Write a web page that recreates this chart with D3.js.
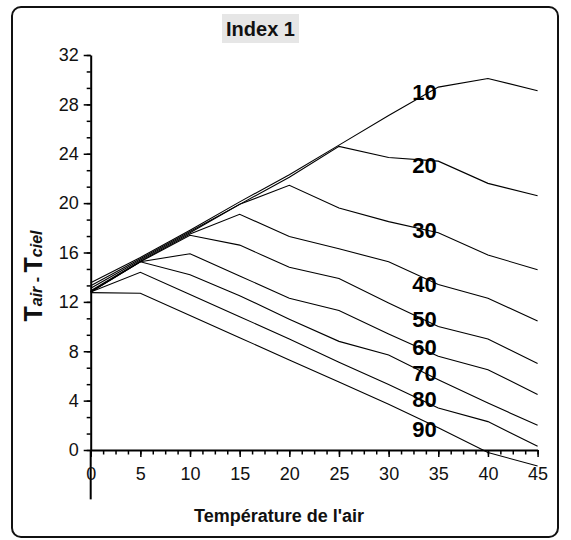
<!DOCTYPE html>
<html>
<head>
<meta charset="utf-8">
<script src="https://cdn.jsdelivr.net/npm/d3@7"></script>
<style>
  body { margin: 0; background: #fff; }
  svg { display: block; font-family: "Liberation Sans", Arial, sans-serif; }
</style>
</head>
<body>
<div id="chart"></div>
<script>
// air temperature (x) and the index curves
const temps = [0, 5, 10, 15, 20, 25, 30, 35, 40, 45];
const indexNames = ["10", "20", "30", "40", "50", "60", "70", "80", "90"];
const idx10 = [13.55, 15.6, 17.8, 20.1, 22.3, 24.7, 27.1, 29.4, 30.1, 29.1];
const idx20 = [13.3, 15.5, 17.7, 19.9, 22.1, 24.6, 23.7, 23.4, 21.6, 20.6];
const idx30 = [13.1, 15.4, 17.6, 19.9, 21.45, 19.6, 18.5, 17.6, 15.8, 14.6];
const idx40 = [12.9, 15.3, 17.5, 19.1, 17.3, 16.3, 15.25, 13.4, 12.3, 10.45];
const idx50 = [12.85, 15.25, 17.4, 16.6, 14.8, 13.9, 11.9, 10.0, 9.0, 7.0];
const idx60 = [12.8, 15.25, 15.9, 14.1, 12.3, 11.3, 9.4, 7.6, 6.5, 4.5];
const idx70 = [12.8, 15.25, 14.2, 12.5, 10.6, 8.8, 7.7, 5.7, 3.8, 2.0];
const idx80 = [12.8, 14.4, 12.6, 10.8, 9.0, 7.1, 5.3, 3.4, 2.3, 0.3];
const idx90 = [12.75, 12.7, 10.9, 9.1, 7.3, 5.5, 3.7, 1.8, -0.2, -1.3];
const series = [idx10, idx20, idx30, idx40, idx50, idx60, idx70, idx80, idx90];
const xTicks = [0, 5, 10, 15, 20, 25, 30, 35, 40, 45];
const yTicks = [0, 4, 8, 12, 16, 20, 24, 28, 32];
const title = "Index 1";
const xTitle = "Température de l'air";

const W = 571, H = 540;
const labelX = 33.6; // temperature where the index names sit
const labelShift = [0.2, -0.4, 0, -0.45, 0.1, 0.2, 0, 0.2, -0.6]; // small nudges off the curve

const svg = d3.select("#chart").append("svg")
    .attr("width", W)
    .attr("height", H);

// frame
svg.append("rect")
    .attr("x", 12).attr("y", 7)
    .attr("width", 546).attr("height", 530)
    .attr("rx", 9)
    .attr("fill", "none")
    .attr("stroke", "#111")
    .attr("stroke-width", 2);

const x = d3.scaleLinear().domain([0, 45]).range([90.7, 537.6]);
const y = d3.scaleLinear().domain([0, 32]).range([450, 55]);

// y axis line runs on below zero like in the source figure
svg.append("line")
    .attr("x1", x(0)).attr("x2", x(0))
    .attr("y1", y(0)).attr("y2", y(-4))
    .attr("stroke", "#000").attr("stroke-width", 2);

// minor ticks
svg.append("g")
    .attr("transform", `translate(0,${y(0)})`)
    .call(d3.axisBottom(x).tickValues(d3.range(0, 45.01, 1.25)).tickSize(4.5).tickFormat("").tickSizeOuter(0))
    .call(g => g.select(".domain").remove())
    .call(g => g.selectAll("line").attr("stroke-width", 1.5));

svg.append("g")
    .attr("transform", `translate(${x(0)},0)`)
    .call(d3.axisLeft(y).tickValues(d3.range(0, 32.01, 4 / 3)).tickSize(4).tickFormat("").tickSizeOuter(0))
    .call(g => g.select(".domain").remove())
    .call(g => g.selectAll("line").attr("stroke-width", 1.5));

// major axes
const xAxis = svg.append("g")
    .attr("transform", `translate(0,${y(0)})`)
    .call(d3.axisBottom(x).tickValues(xTicks).tickSize(7).tickPadding(10).tickSizeOuter(0));

const yAxis = svg.append("g")
    .attr("transform", `translate(${x(0)},0)`)
    .call(d3.axisLeft(y).tickValues(yTicks).tickSize(7).tickPadding(5).tickSizeOuter(0));

[xAxis, yAxis].forEach(g => {
    g.select(".domain").attr("stroke-width", 2);
    g.selectAll(".tick line").attr("stroke-width", 1.5);
    g.selectAll("text")
        .attr("font-size", 18)
        .attr("font-family", "Liberation Sans, Arial, sans-serif")
        .attr("fill", "#111");
});

// curves
const line = d3.line()
    .x((d, i) => x(temps[i]))
    .y(d => y(d));

svg.append("g")
    .selectAll("path")
    .data(series)
    .join("path")
    .attr("d", d => line(d))
    .attr("fill", "none")
    .attr("stroke", "#000")
    .attr("stroke-width", 1.1);

// index names, placed on each curve
const valueAt = (vals, t) => {
    const i = d3.bisectRight(temps, t) - 1;
    const f = (t - temps[i]) / (temps[i + 1] - temps[i]);
    return vals[i] + f * (vals[i + 1] - vals[i]);
};

svg.append("g")
    .selectAll("text")
    .data(series)
    .join("text")
    .attr("x", x(labelX))
    .attr("y", (d, i) => y(valueAt(d, labelX) + labelShift[i]))
    .attr("dy", "0.36em")
    .attr("text-anchor", "middle")
    .attr("font-size", 22)
    .attr("font-weight", "bold")
    .attr("fill", "#000")
    .text((d, i) => indexNames[i]);

// title
svg.append("rect")
    .attr("x", 222).attr("y", 14)
    .attr("width", 77).attr("height", 29)
    .attr("fill", "#e6e6e6");

svg.append("text")
    .attr("x", 260.5).attr("y", 36)
    .attr("text-anchor", "middle")
    .attr("font-size", 20)
    .attr("font-weight", "bold")
    .attr("fill", "#111")
    .text(title);

// axis titles
svg.append("text")
    .attr("x", 279).attr("y", 522)
    .attr("text-anchor", "middle")
    .attr("font-size", 18)
    .attr("font-weight", "bold")
    .attr("fill", "#111")
    .text(xTitle);

const yLab = svg.append("text")
    .attr("transform", "translate(42,276) rotate(-90)")
    .attr("text-anchor", "middle")
    .attr("font-weight", "bold")
    .attr("fill", "#111");
yLab.append("tspan").attr("font-size", 25).text("T");
yLab.append("tspan").attr("font-size", 16).attr("font-style", "italic").text("air");
yLab.append("tspan").attr("font-size", 16).text(" - ");
yLab.append("tspan").attr("font-size", 25).text("T");
yLab.append("tspan").attr("font-size", 16).attr("font-style", "italic").text("ciel");
</script>
</body>
</html>
